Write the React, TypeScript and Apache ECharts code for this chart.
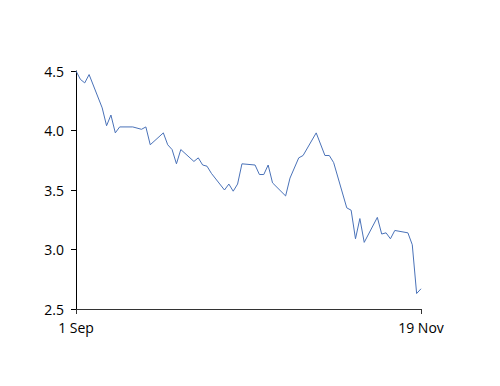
import React, { useEffect, useRef } from "react";
import * as echarts from "echarts";

// days since 1 Sep
const days = [
  0, 1, 2, 3, 6, 7, 8, 9, 10, 13, 15, 16, 17, 20, 21, 22, 23, 24, 27, 28, 29,
  30, 31, 34, 35, 36, 37, 38, 41, 42, 43, 44, 45, 48, 49, 51, 52, 55, 57, 58,
  59, 62, 63, 64, 65, 66, 69, 70, 71, 72, 73, 76, 77, 78, 79,
];
const values = [
  4.5, 4.43, 4.4, 4.47, 4.19, 4.04, 4.13, 3.98, 4.03, 4.03, 4.01, 4.03, 3.88,
  3.98, 3.88, 3.84, 3.72, 3.84, 3.74, 3.77, 3.71, 3.7, 3.64, 3.5, 3.55, 3.49,
  3.55, 3.72, 3.71, 3.63, 3.63, 3.71, 3.56, 3.45, 3.6, 3.77, 3.79, 3.98, 3.79,
  3.79, 3.73, 3.35, 3.33, 3.09, 3.26, 3.06, 3.27, 3.13, 3.14, 3.09, 3.16, 3.14,
  3.04, 2.63, 2.67,
];
const xTickLabels: Record<number, string> = { 0: "1 Sep", 79: "19 Nov" };
const yMin = 2.5;
const yMax = 4.5;
const yStep = 0.5;

export default function App() {
  const ref = useRef<HTMLDivElement>(null);
  useEffect(() => {
    if (!ref.current) return;
    const chart = echarts.init(ref.current, undefined, { renderer: "svg" });
    const font = "Open Sans";
    chart.setOption({
      animation: false,
      grid: { left: 76, right: 79, top: 71, bottom: 77 },
      xAxis: {
        type: "value",
        min: 0,
        max: 79,
        interval: 79,
        axisLine: { lineStyle: { color: "#333", width: 1 } },
        axisTick: { show: true, length: 5, lineStyle: { color: "#333" } },
        splitLine: { show: false },
        axisLabel: {
          color: "#000",
          fontFamily: font,
          fontSize: 14,
          margin: 11,
          formatter: (v: number) => xTickLabels[v] ?? "",
        },
      },
      yAxis: {
        type: "value",
        min: yMin,
        max: yMax,
        interval: yStep,
        axisLine: { show: true, lineStyle: { color: "#000", width: 1 } },
        axisTick: { show: true, length: 5, lineStyle: { color: "#000" } },
        splitLine: { show: false },
        axisLabel: {
          color: "#000",
          fontFamily: font,
          fontSize: 14,
          margin: 12,
          formatter: (v: number) => v.toFixed(1),
        },
      },
      series: [
        {
          type: "line",
          data: days.map((d, i) => [d, values[i]]),
          showSymbol: false,
          lineStyle: { color: "#4a72b8", width: 1 },
        },
      ],
    });
    return () => chart.dispose();
  }, []);
  return <div ref={ref} style={{ width: 500, height: 386, margin: -8 }} />;
}
